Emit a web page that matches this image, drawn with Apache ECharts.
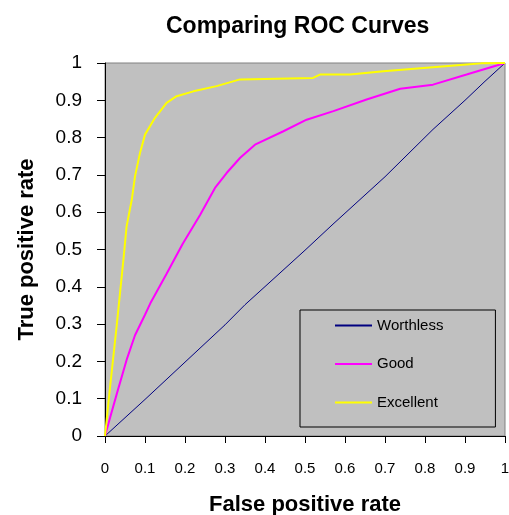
<!DOCTYPE html>
<html>
<head>
<meta charset="utf-8">
<script src="https://cdn.jsdelivr.net/npm/echarts@6/dist/echarts.min.js"></script>
<style>
html,body{margin:0;padding:0;background:#fff;}
#c{width:509px;height:515px;}
</style>
</head>
<body>
<div id="c"></div>
<script>
var seriesNames = ['Worthless', 'Good', 'Excellent'];

var worthlessFpr = [0, 0.1, 0.17, 0.2, 0.3, 0.35, 0.42, 0.5, 0.57, 0.7, 0.82, 0.9, 0.95, 1];
var worthlessTpr = [0, 0.098, 0.168, 0.198, 0.298, 0.352, 0.42, 0.498, 0.568, 0.695, 0.822, 0.9, 0.951, 1];

var goodFpr = [0, 0.013, 0.03, 0.054, 0.075, 0.1, 0.113, 0.154, 0.194, 0.238, 0.275, 0.304, 0.338, 0.375, 0.446, 0.504, 0.571, 0.654, 0.738, 0.82, 0.904, 1];
var goodTpr = [0, 0.05, 0.115, 0.204, 0.27, 0.325, 0.355, 0.435, 0.515, 0.593, 0.665, 0.705, 0.746, 0.781, 0.817, 0.848, 0.871, 0.902, 0.931, 0.942, 0.969, 1];

var excellentFpr = [0, 0.011, 0.029, 0.046, 0.054, 0.067, 0.075, 0.0875, 0.1, 0.125, 0.154, 0.179, 0.221, 0.279, 0.3375, 0.52, 0.5375, 0.6125, 0.696, 0.904, 0.94, 1];
var excellentTpr = [0, 0.115, 0.293, 0.472, 0.562, 0.634, 0.696, 0.759, 0.808, 0.853, 0.893, 0.911, 0.924, 0.938, 0.956, 0.96, 0.969, 0.969, 0.978, 0.996, 0.999, 1];

var axisTicks = [0, 0.1, 0.2, 0.3, 0.4, 0.5, 0.6, 0.7, 0.8, 0.9, 1];

function pairs(xs, ys) {
  return xs.map(function (x, i) { return [x, ys[i]]; });
}

var chart = echarts.init(document.getElementById('c'), null, {renderer: 'canvas'});
var boldFont = 'Liberation Sans';
chart.setOption({
  animation: false,
  backgroundColor: '#ffffff',
  title: {
    text: 'Comparing ROC Curves',
    left: 166,
    top: 15,
    padding: 0,
    textStyle: {fontFamily: boldFont, fontWeight: 'bold', fontSize: 23, color: '#000'}
  },
  legend: {
    orient: 'vertical',
    left: 300,
    top: 310,
    data: seriesNames,
    icon: 'rect',
    backgroundColor: '#c0c0c0',
    borderColor: '#000',
    borderWidth: 1,
    padding: [8, 52, 17, 35],
    itemWidth: 37,
    itemHeight: 2,
    itemGap: 23.5,
    textStyle: {fontFamily: 'Liberation Sans', fontSize: 15, color: '#000', lineHeight: 14}
  },
  grid: {
    left: 105, top: 63, right: 4, bottom: 79,
    outerBoundsMode: 'none',
    containLabel: false,
    show: true,
    backgroundColor: '#c0c0c0',
    borderColor: '#808080',
    borderWidth: 1
  },
  xAxis: {
    type: 'value',
    min: 0, max: 1, interval: 0.1,
    name: 'False positive rate',
    nameLocation: 'middle',
    nameGap: 58,
    nameTextStyle: {fontFamily: boldFont, fontWeight: 'bold', fontSize: 22, color: '#000'},
    axisLine: {lineStyle: {color: '#000', width: 1}},
    axisTick: {show: true, length: 7, lineStyle: {color: '#000'}},
    axisLabel: {fontFamily: 'Liberation Sans', fontSize: 15, color: '#000', margin: 25,
      formatter: function (v) { return String(+v.toFixed(1)); }},
    splitLine: {show: false}
  },
  yAxis: {
    type: 'value',
    min: 0, max: 1, interval: 0.1,
    name: 'True positive rate',
    nameLocation: 'middle',
    nameRotate: 90,
    nameGap: 67,
    nameTextStyle: {fontFamily: boldFont, fontWeight: 'bold', fontSize: 22, color: '#000'},
    axisLine: {show: true, lineStyle: {color: '#000', width: 1}},
    axisTick: {show: true, length: 8, lineStyle: {color: '#000'}},
    axisLabel: {fontFamily: 'Liberation Sans', fontSize: 19, color: '#000', margin: 23,
      formatter: function (v) { return String(+v.toFixed(1)); }},
    splitLine: {show: false}
  },
  series: [
    {name: seriesNames[0], type: 'line', data: pairs(worthlessFpr, worthlessTpr), symbol: 'none',
      lineStyle: {color: '#000080', width: 1}, itemStyle: {color: '#000080'}},
    {name: seriesNames[1], type: 'line', data: pairs(goodFpr, goodTpr), symbol: 'none',
      lineStyle: {color: '#ff00ff', width: 2}, itemStyle: {color: '#ff00ff'}},
    {name: seriesNames[2], type: 'line', data: pairs(excellentFpr, excellentTpr), symbol: 'none',
      lineStyle: {color: '#ffff00', width: 2}, itemStyle: {color: '#ffff00'}}
  ]
});
</script>
</body>
</html>
